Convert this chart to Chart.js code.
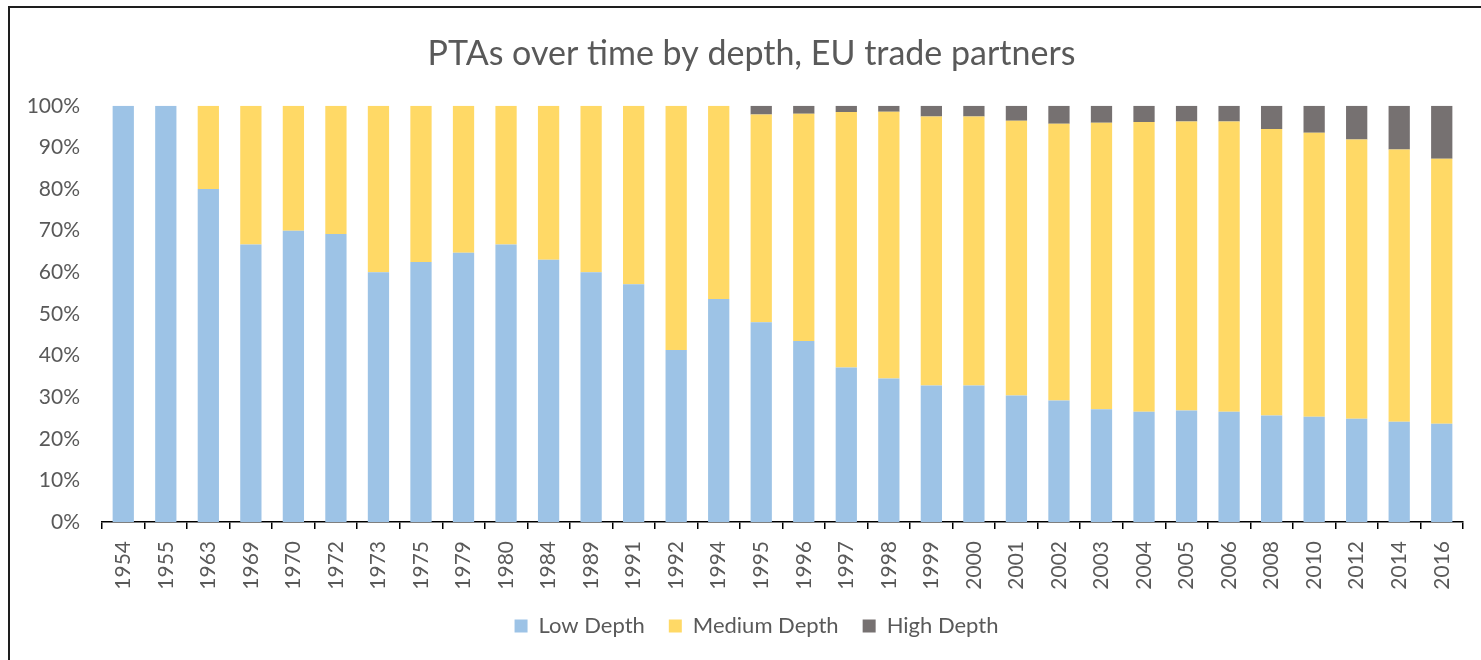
<!DOCTYPE html>
<html>
<head>
<meta charset="utf-8">
<script src="https://cdn.jsdelivr.net/npm/chart.js@4.4.1/dist/chart.umd.min.js"></script>
<style>
  html, body { margin: 0; padding: 0; background: #fff; overflow: hidden; }
  #wrap { position: relative; width: 1481px; height: 660px; }
  #frame { position: absolute; left: 8px; top: 6px; width: 1600px; height: 800px;
           border-left: 2px solid #1e1e1e; border-top: 2px solid #1e1e1e; pointer-events: none; }
  canvas { position: absolute; left: 0; top: 0; }
</style>
</head>
<body>
<div id="wrap">
  <canvas id="pta-chart" width="1481" height="660"></canvas>
  <div id="frame"></div>
</div>
<script>
const years = ['1954', '1955', '1963', '1969', '1970', '1972', '1973', '1975', '1979', '1980',
               '1984', '1989', '1991', '1992', '1994', '1995', '1996', '1997', '1998', '1999',
               '2000', '2001', '2002', '2003', '2004', '2005', '2006', '2008', '2010', '2012',
               '2014', '2016'];

// shares in percent
const lowDepth = [100, 100, 80, 66.7, 70, 69.2, 60, 62.5, 64.7, 66.7,
                  63, 60, 57.1, 41.3, 53.6, 48, 43.5, 37.1, 34.5, 32.8,
                  32.8, 30.4, 29.2, 27.1, 26.5, 26.8, 26.5, 25.6, 25.3, 24.8,
                  24.1, 23.6];
const highDepth = [0, 0, 0, 0, 0, 0, 0, 0, 0, 0,
                   0, 0, 0, 0, 0, 2.1, 1.9, 1.5, 1.4, 2.6,
                   2.6, 3.6, 4.3, 4.1, 3.9, 3.8, 3.8, 5.6, 6.5, 8.1,
                   10.5, 12.7];
const mediumDepth = lowDepth.map((v, i) => +(100 - v - highDepth[i]).toFixed(1));

const yTicks = [0, 10, 20, 30, 40, 50, 60, 70, 80, 90, 100];

const textColor = '#595959';
const fontFamily = 'Lato, "Open Sans", sans-serif';

// nudge title and legend a bit right, like the original
const boxShift = {
    id: 'boxShift',
    afterLayout(c) {
        c.legend.left += 50;
        c.titleBlock.left += 20;
        c.titleBlock.right += 20;
    }
};

const ctx = document.getElementById('pta-chart').getContext('2d');
const chart = new Chart(ctx, {
    type: 'bar',
    data: {
        labels: years,
        datasets: [
            { label: 'Low Depth', data: lowDepth, backgroundColor: '#9DC3E6' },
            { label: 'Medium Depth', data: mediumDepth, backgroundColor: '#FFD966' },
            { label: 'High Depth', data: highDepth, backgroundColor: '#767171' }
        ]
    },
    options: {
        responsive: false,
        animation: false,
        barPercentage: 0.5,
        categoryPercentage: 1,
        layout: { padding: { left: 0, right: 18, top: 0, bottom: 13 } },
        plugins: {
            title: {
                display: true,
                text: 'PTAs over time by depth, EU trade partners',
                color: textColor,
                font: { family: fontFamily, size: 34, weight: 'normal' },
                padding: { top: 34, bottom: 31 }
            },
            legend: {
                position: 'bottom',
                labels: {
                    color: textColor,
                    font: { family: fontFamily, size: 22 },
                    boxWidth: 13,
                    boxHeight: 13,
                    padding: 24
                }
            },
            tooltip: { enabled: false }
        },
        scales: {
            x: {
                stacked: true,
                border: { display: true, color: '#000', width: 1.5 },
                grid: { display: true, drawOnChartArea: false, drawTicks: true, tickLength: 7, color: '#000', lineWidth: 1.5, offset: true },
                ticks: { color: textColor, font: { family: fontFamily, size: 21 }, minRotation: 90, maxRotation: 90, padding: 12, autoSkip: false },
                afterFit: (scale) => { scale.height = 69; }
            },
            y: {
                stacked: true,
                min: 0,
                max: 100,
                border: { display: false },
                grid: { display: false, drawTicks: false },
                afterBuildTicks: (scale) => { scale.ticks = yTicks.map(v => ({ value: v })); },
                ticks: { color: textColor, font: { family: fontFamily, size: 21 }, padding: 22, callback: v => v + '%' },
                afterFit: (scale) => { scale.width = 102; }
            }
        }
    },
    plugins: [boxShift]
});
</script>
</body>
</html>
